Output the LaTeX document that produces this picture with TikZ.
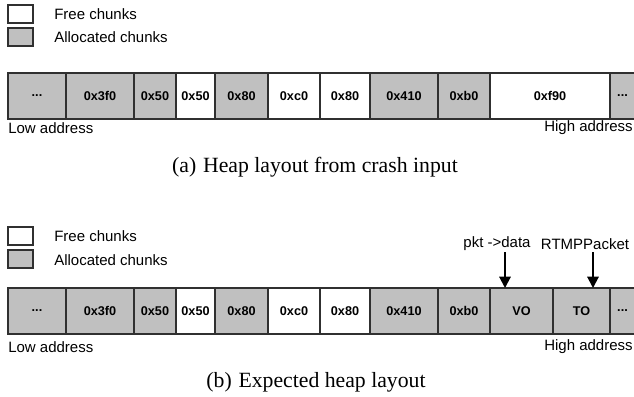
\documentclass[tikz,border=0pt]{standalone}
\usepackage{fontspec}
\setmainfont{Liberation Serif}
\setsansfont{Liberation Sans}
\usetikzlibrary{arrows.meta}
\definecolor{chunkgrey}{HTML}{C0C0C0}
\definecolor{edgecol}{HTML}{303030}
\begin{document}
\begin{tikzpicture}[x=0.75pt,y=-0.75pt,
  cell/.style={draw=edgecol, line width=0.8pt, inner sep=0pt, outer sep=0pt, anchor=north west,
    minimum height=34.5pt, font=\sffamily\bfseries\fontsize{9.5}{11}\selectfont},
  free/.style={fill=white},
  alloc/.style={fill=chunkgrey},
  legbox/.style={draw=edgecol, line width=0.8pt, inner sep=0pt, outer sep=0pt, anchor=north west,
    minimum width=18.75pt, minimum height=13.5pt},
  lbl/.style={font=\sffamily\fontsize{11.25}{13}\selectfont, inner sep=0pt},
  captext/.style={font=\rmfamily\fontsize{16.3}{19}\selectfont, inner sep=0pt},
  arr/.style={line width=1.5pt, -{Triangle[length=8.5pt,width=8.5pt]}}]
\useasboundingbox (0,0) rectangle (634,396);

% ---------- (a) ----------
\node[legbox,free]  (fa) at (8,5) {};
\node[legbox,alloc] (ga) at (8,28) {};
\node[lbl,anchor=west] (tfa) at (54,14) {Free chunks};
\node[lbl,anchor=west] (tga) at (54,37) {Allocated chunks};

\foreach \n/\xa/\xb/\t/\s in {
  a1/8/66/{...}/alloc, a2/66/134/0x3f0/alloc, a3/134/176/0x50/alloc, a4/176/215/0x50/free,
  a5/215/268/0x80/alloc, a6/268/320/0xc0/free, a7/320/370/0x80/free, a8/370/438/0x410/alloc,
  a9/438/490/0xb0/alloc, a10/490/610/0xf90/free, a11/610/635/{...}/alloc}
  \node[cell,\s,minimum width={(\xb-\xa)*0.75pt}] (\n) at (\xa,73) {\t};

\node[lbl,anchor=west] (la) at (8,128) {Low address};
\node[lbl,anchor=west] (ha) at (544,128) {High address};
\node[captext] (ca) at (315,167) {(a)\hspace{1pt} Heap layout from crash input};

% ---------- (b) ----------
\node[legbox,free]  (fb) at (8,227) {};
\node[legbox,alloc] (gb) at (8,250) {};
\node[lbl,anchor=west] (tfb) at (54,236) {Free chunks};
\node[lbl,anchor=west] (tgb) at (54,260) {Allocated chunks};

\foreach \n/\xa/\xb/\t/\s in {
  b1/8/66/{...}/alloc, b2/66/134/0x3f0/alloc, b3/134/176/0x50/alloc, b4/176/215/0x50/free,
  b5/215/268/0x80/alloc, b6/268/320/0xc0/free, b7/320/370/0x80/free, b8/370/438/0x410/alloc,
  b9/438/490/0xb0/alloc, b10/490/553/VO/alloc, b11/553/610/TO/alloc, b12/610/635/{...}/alloc}
  \node[cell,\s,minimum width={(\xb-\xa)*0.75pt}] (\n) at (\xa,288) {\t};

\node[lbl] (pk) at (497,244) {pkt ->data};
\node[lbl] (rp) at (585,244) {RTMPPacket};
\coordinate (pks) at (505,252);
\coordinate (rps) at (593,252);
\draw[arr] (pks) -- (pks |- b10.north);
\draw[arr] (rps) -- (rps |- b11.north);

\node[lbl,anchor=west] (lb) at (8,347) {Low address};
\node[lbl,anchor=west] (hb) at (544,347) {High address};
\node[captext] (cb) at (316,382) {(b)\hspace{1pt} Expected heap layout};
\end{tikzpicture}
\end{document}
